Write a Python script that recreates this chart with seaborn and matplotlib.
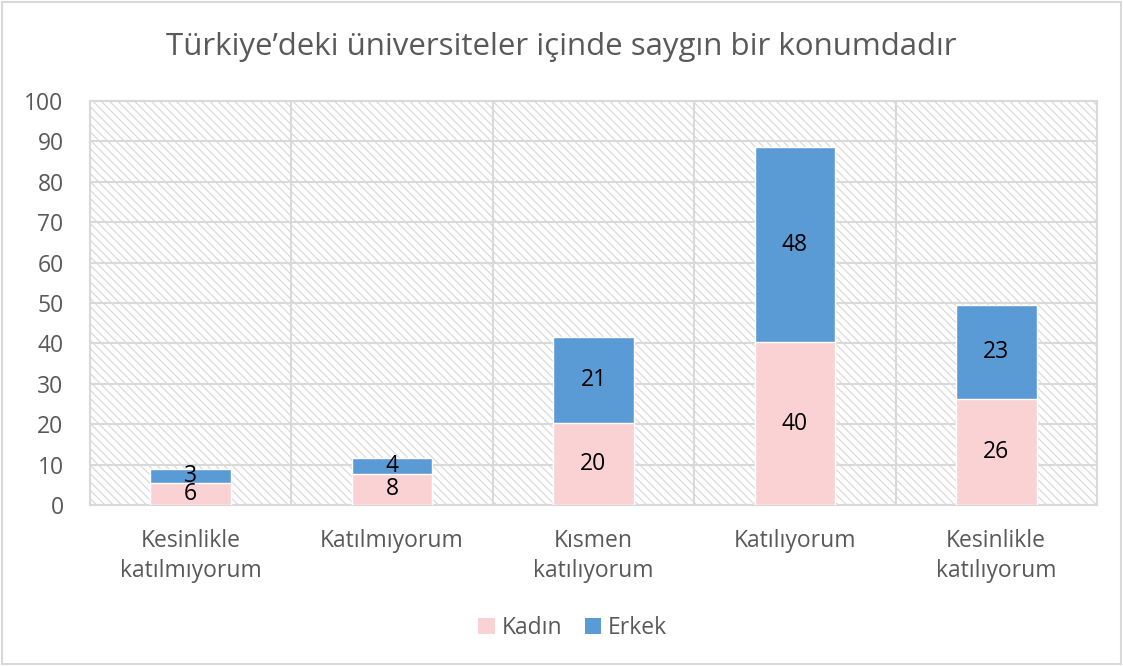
import matplotlib
matplotlib.use('Agg')
import matplotlib.pyplot as plt
from matplotlib.patches import Rectangle, Patch
import seaborn as sns
import pandas as pd
import numpy as np

# data (bar heights), labels shown rounded
categories = ['Kesinlikle\nkatılmıyorum', 'Katılmıyorum', 'Kısmen\nkatılıyorum',
              'Katılıyorum', 'Kesinlikle\nkatılıyorum']
kadin = [5.5, 7.8, 20.4, 40.3, 26.2]
erkek = [3.4, 3.8, 21.3, 48.2, 23.4]
series_names = ['Kadın', 'Erkek']
title = 'Türkiye’deki üniversiteler içinde saygın bir konumdadır'

pink = '#FAD2D3'
blue = '#5B9BD5'
grid_c = '#D9D9D9'
text_c = '#595959'

df = pd.DataFrame({'kategori': categories, 'Kadın': kadin, 'Erkek': erkek})
df['toplam'] = df['Kadın'] + df['Erkek']

sns.set_style('white')
plt.rcParams['font.family'] = ['Open Sans', 'DejaVu Sans']
plt.rcParams['hatch.linewidth'] = 0.8

fig = plt.figure(figsize=(11.23, 6.66), dpi=100)
ax = fig.add_axes([0.0801, 0.2417, 0.8967, 0.6066])

# hatched plot area background
bg = Rectangle((0, 0), 1, 1, transform=ax.transAxes, facecolor='white',
               edgecolor='#D6D6D6', linewidth=0, hatch='\\\\\\\\', zorder=0)
ax.add_patch(bg)

sns.barplot(data=df, x='kategori', y='toplam', color=blue, width=0.4,
            saturation=1, ax=ax, zorder=3)
sns.barplot(data=df, x='kategori', y='Kadın', color=pink, width=0.4,
            saturation=1, ax=ax, zorder=4)

for i, row in df.iterrows():
    ax.text(i, row['Kadın'] / 2, f"{row['Kadın']:.0f}", ha='center', va='center',
            fontsize=16.5, color='black', zorder=5)
    ax.text(i, row['Kadın'] + row['Erkek'] / 2, f"{row['Erkek']:.0f}", ha='center',
            va='center', fontsize=16.5, color='black', zorder=5)

ax.set_xlim(-0.5, len(categories) - 0.5)
ax.set_ylim(0, 100)
ax.set_yticks(np.arange(0, 101, 10))
ax.set_xticks(np.arange(-0.5, len(categories), 1), minor=True)
ax.grid(True, which='major', axis='y', color=grid_c, linewidth=1.5, zorder=1)
ax.grid(True, which='minor', axis='x', color=grid_c, linewidth=1.5, zorder=1)
ax.grid(False, which='major', axis='x')
ax.set_axisbelow(True)
ax.tick_params(axis='both', which='both', length=0, labelsize=16.5, colors=text_c)
ax.tick_params(axis='x', which='major', pad=17)
ax.tick_params(axis='y', pad=19)
for lab in ax.get_xticklabels():
    lab.set_multialignment('center')
    lab.set_linespacing(1.35)
ax.set_xlabel('')
ax.set_ylabel('')
for s in ax.spines.values():
    s.set_color(grid_c)
    s.set_linewidth(1.5)

fig.text(0.5, 0.929, title, ha='center', va='center', fontsize=22.5, color=text_c)

handles = [Patch(facecolor=pink, edgecolor='none'), Patch(facecolor=blue, edgecolor='none')]
fig.legend(handles, series_names, loc='center', bbox_to_anchor=(0.51, 0.057), ncol=2,
           frameon=False, fontsize=16.5, handlelength=0.7, handleheight=0.7,
           handletextpad=0.3, columnspacing=1.0, labelcolor=text_c)

fig.patches.append(Rectangle((0.002, 0.003), 0.996, 0.994, transform=fig.transFigure,
                             fill=False, edgecolor=grid_c, linewidth=1.5))

fig.savefig('out.png', dpi=100)
